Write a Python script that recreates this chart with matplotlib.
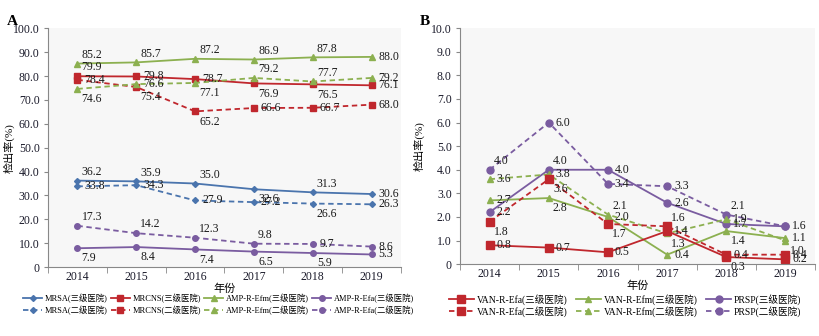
import matplotlib
matplotlib.use("Agg")
import matplotlib.pyplot as plt

plt.rcParams['font.family'] = ['Liberation Serif', 'Noto Sans CJK SC', 'DejaVu Sans']

years = ['2014', '2015', '2016', '2017', '2018', '2019']

# panel A
mrsa_3 = [36.2, 35.9, 35.0, 32.6, 31.3, 30.6]
mrsa_2 = [33.8, 34.3, 27.9, 27.2, 26.6, 26.3]
mrcns_3 = [79.9, 79.8, 78.7, 76.9, 76.5, 76.1]
mrcns_2 = [78.4, 75.4, 65.2, 66.6, 66.7, 68.0]
efm_3 = [85.2, 85.7, 87.2, 86.9, 87.8, 88.0]
efm_2 = [74.6, 76.6, 77.1, 79.2, 77.7, 79.2]
efa_3 = [7.9, 8.4, 7.4, 6.5, 5.9, 5.3]
efa_2 = [17.3, 14.2, 12.3, 9.8, 9.7, 8.6]

# panel B
van_efa_3 = [0.8, 0.7, 0.5, 1.4, 0.3, 0.2]
van_efa_2 = [1.8, 3.6, 1.7, 1.6, 0.4, 0.4]
van_efm_3 = [2.7, 2.8, 2.0, 0.4, 1.4, 1.1]
van_efm_2 = [3.6, 3.8, 2.1, 1.3, 1.9, 1.0]
prsp_3 = [2.2, 4.0, 4.0, 2.6, 1.7, 1.6]
prsp_2 = [4.0, 6.0, 3.4, 3.3, 2.1, 1.6]

BLUE = '#4a74ad'
RED = '#c0272d'
GREEN = '#8cb050'
PURPLE = '#7a5ca0'

OFFS = {'r': ((5, 0), 'left', 'center'),
        'a': ((3, 2), 'left', 'bottom'),
        'b': ((3, -3), 'left', 'top'),
        'n': None}


def draw(ax, vals, color, marker, ls, ms, pos, label):
    x = list(range(len(vals)))
    ax.plot(x, vals, color=color, marker=marker, ls=ls, lw=1.3, ms=ms,
            label=label, dashes=(3, 2) if ls == '--' else (None, None))
    for i, v in enumerate(vals):
        o = OFFS[pos[i]]
        if o is None:
            continue
        ax.annotate(f'{v:.1f}', (i, v), xytext=o[0], textcoords='offset points',
                    ha=o[1], va=o[2], fontsize=8.5, color='#1a1a1a')


def style(ax, ymax, step):
    ax.set_facecolor('#f7f7f7')
    ax.set_xlim(-0.5, 5.5)
    ax.set_ylim(0, ymax)
    ticks = [i * step for i in range(11)]
    ax.set_yticks(ticks)
    ax.set_yticklabels(['0'] + [f'{t:.1f}' for t in ticks[1:]])
    ax.set_xticks(range(6))
    ax.set_xticklabels(years)
    ax.set_xticks([i - 0.5 for i in range(7)], minor=True)
    ax.tick_params(axis='x', which='major', length=0, pad=3)
    ax.tick_params(axis='x', which='minor', length=4, color='#888888')
    ax.tick_params(axis='y', length=3, color='#888888', pad=3)
    ax.tick_params(labelsize=8.5, labelcolor='#1a1a2a')
    for s in ['top', 'right']:
        ax.spines[s].set_visible(False)
    for s in ['left', 'bottom']:
        ax.spines[s].set_color('#888888')
    ax.set_xlabel('年份', fontsize=8, labelpad=0)
    ax.set_ylabel('检出率(%)', fontsize=8)


fig = plt.figure(figsize=(8.19, 3.36), dpi=100)
axA = fig.add_axes([0.0586, 0.205, 0.431, 0.711])
axB = fig.add_axes([0.5617, 0.214, 0.4335, 0.702])

draw(axA, mrsa_3, BLUE, 'D', '-', 3, 'aaabar', 'MRSA(三级医院)')
draw(axA, mrsa_2, BLUE, 'D', '--', 3, 'rrrrbr', 'MRSA(二级医院)')
draw(axA, mrcns_3, RED, 's', '-', 4, 'arrbbr', 'MRCNS(三级医院)')
draw(axA, mrcns_2, RED, 's', '--', 4, 'rbbrrr', 'MRCNS(二级医院)')
draw(axA, efm_3, GREEN, '^', '-', 4.5, 'aaaaar', 'AMP-R-Efm(三级医院)')
draw(axA, efm_2, GREEN, '^', '--', 4.5, 'brbaar', 'AMP-R-Efm(二级医院)')
draw(axA, efa_3, PURPLE, 'o', '-', 4, 'bbbbbr', 'AMP-R-Efa(三级医院)')
draw(axA, efa_2, PURPLE, 'o', '--', 4, 'aaaarr', 'AMP-R-Efa(二级医院)')
style(axA, 100, 10)
axA.yaxis.set_label_coords(-0.095, 0.5)
fig.text(0.008, 0.925, 'A', fontsize=11, fontweight='bold')

hA, lA = axA.get_legend_handles_labels()
fig.legend(hA, lA, loc='upper left', bbox_to_anchor=(0.028, 0.125), ncol=4,
           frameon=False, fontsize=6, handlelength=2.3, handletextpad=0.3,
           columnspacing=0.4, labelspacing=0.25, borderaxespad=0, borderpad=0)

draw(axB, prsp_2, PURPLE, 'o', '--', 5, 'arrrar', 'PRSP(二级医院)')
draw(axB, prsp_3, PURPLE, 'o', '-', 5, 'rarrrn', 'PRSP(三级医院)')
draw(axB, van_efm_2, GREEN, '^', '--', 5, 'rrabrb', 'VAN-R-Efm(二级医院)')
draw(axB, van_efm_3, GREEN, '^', '-', 5, 'rbrrbr', 'VAN-R-Efm(三级医院)')
draw(axB, van_efa_2, RED, 's', '--', 6, 'bbbarr', 'VAN-R-Efa(二级医院)')
draw(axB, van_efa_3, RED, 's', '-', 6, 'rrrrbr', 'VAN-R-Efa(三级医院)')
style(axB, 10, 1)
axB.yaxis.set_label_coords(-0.1, 0.5)
fig.text(0.512, 0.925, 'B', fontsize=11, fontweight='bold')

hB, lB = axB.get_legend_handles_labels()
orderB = [5, 4, 3, 2, 1, 0]
fig.legend([hB[i] for i in orderB], [lB[i] for i in orderB],
           loc='upper left', bbox_to_anchor=(0.548, 0.125), ncol=3, frameon=False,
           fontsize=6.9, handlelength=2.6, handletextpad=0.3, columnspacing=0.9,
           labelspacing=0.1, borderaxespad=0, borderpad=0)

fig.savefig('out.png', dpi=100)
